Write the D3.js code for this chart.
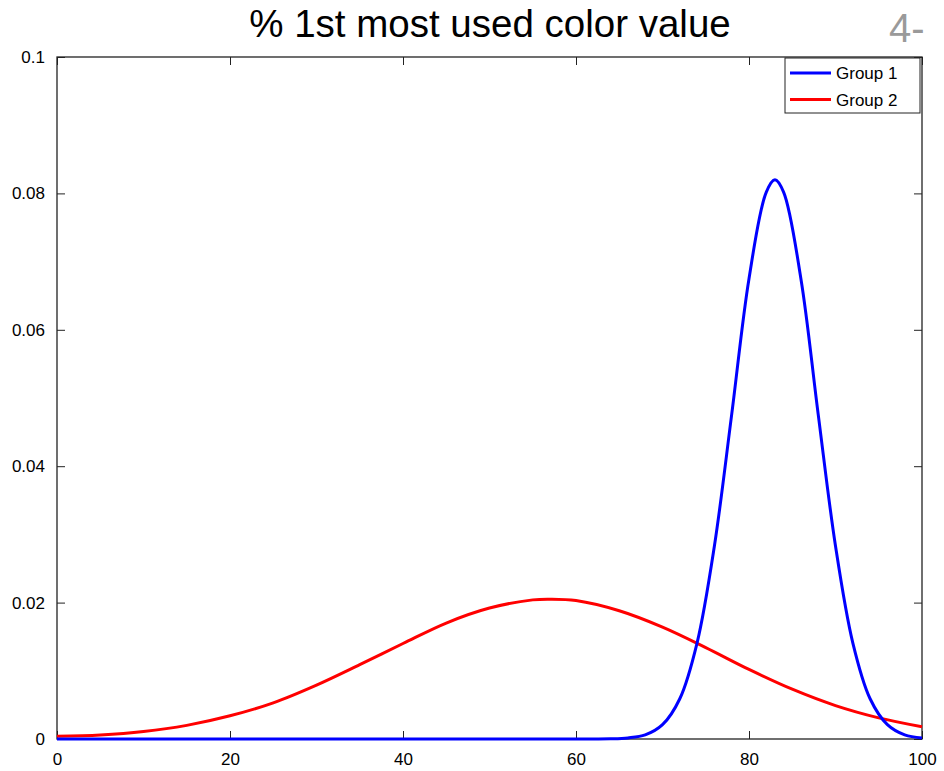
<!DOCTYPE html>
<html>
<head>
<meta charset="utf-8">
<script src="https://cdn.jsdelivr.net/npm/d3@7"></script>
<style>
  body { margin: 0; background: #fff; }
  text { font-family: "Liberation Sans", Arial, Helvetica, sans-serif; }
</style>
</head>
<body>
<div id="chart"></div>
<script>
// values
var xTicks = [0, 20, 40, 60, 80, 100];
var yTicks = [0, 0.02, 0.04, 0.06, 0.08, 0.1];
var yTickLabels = ["0", "0.02", "0.04", "0.06", "0.08", "0.1"];
var seriesNames = ["Group 1", "Group 2"];
var seriesColors = ["#0000ff", "#ff0000"];

var group1X = [0, 20, 40, 60, 62, 64, 66, 68, 70, 72, 74, 76, 78, 80, 82, 83, 84, 86, 88, 90, 92, 94, 96, 98, 100];
var group1Y = [0, 0, 0, 0, 0.00001, 0.00003, 0.00016, 0.0006, 0.0021, 0.0059, 0.0141, 0.0283, 0.0476, 0.0675, 0.0802, 0.082, 0.0802, 0.0675, 0.0476, 0.0283, 0.0141, 0.0059, 0.0021, 0.0006, 0.00016];

var group2X = [0, 5, 10, 15, 20, 25, 30, 35, 40, 45, 50, 55, 57, 60, 65, 70, 75, 80, 85, 90, 95, 100];
var group2Y = [0.0004, 0.0006, 0.0011, 0.002, 0.0034, 0.0053, 0.0079, 0.0109, 0.014, 0.017, 0.0192, 0.0204, 0.0205, 0.0203, 0.0188, 0.0164, 0.0134, 0.0102, 0.0073, 0.0049, 0.0031, 0.0018];

var W = 944, H = 771;
var margin = {top: 57, right: 22, bottom: 32, left: 57},
    width = W - margin.left - margin.right,
    height = H - margin.top - margin.bottom;

var svg = d3.select("#chart")
  .append("svg")
    .attr("width", W)
    .attr("height", H);

// slide title and page number in the corner
svg.append("text")
  .attr("x", 490)
  .attr("y", 37)
  .attr("text-anchor", "middle")
  .style("font-size", "38.5px")
  .text("% 1st most used color value");

svg.append("text")
  .attr("x", 889)
  .attr("y", 42)
  .style("font-size", "40px")
  .style("fill", "#9a9a9a")
  .text("4-");

var g = svg.append("g")
  .attr("transform", "translate(" + margin.left + "," + margin.top + ")");

var x = d3.scaleLinear().domain([0, 100]).range([0, width]);
var y = d3.scaleLinear().domain([0, 0.1]).range([height, 0]);

// axes with inward ticks, mirrored on top and right
var tickLen = 8;
g.append("g")
  .attr("class", "axis")
  .attr("transform", "translate(0," + height + ")")
  .call(d3.axisBottom(x).tickValues(xTicks).tickSize(-tickLen).tickPadding(tickLen + 6).tickSizeOuter(0));
g.append("g")
  .attr("class", "axis")
  .call(d3.axisTop(x).tickValues(xTicks).tickSize(-tickLen).tickFormat("").tickSizeOuter(0));
g.append("g")
  .attr("class", "axis")
  .call(d3.axisLeft(y).tickValues(yTicks).tickSize(-tickLen).tickPadding(tickLen + 4).tickSizeOuter(0)
    .tickFormat(function(d, i) { return yTickLabels[i]; }));
g.append("g")
  .attr("class", "axis")
  .attr("transform", "translate(" + width + ",0)")
  .call(d3.axisRight(y).tickValues(yTicks).tickSize(-tickLen).tickFormat("").tickSizeOuter(0));

g.selectAll(".axis .domain").remove();
g.selectAll(".axis line").attr("stroke", "#222");
g.selectAll(".axis text")
  .style("font-size", "17px")
  .style("font-family", "'Liberation Sans', Arial, sans-serif")
  .attr("fill", "#000");

g.append("rect")
  .attr("width", width)
  .attr("height", height)
  .attr("fill", "none")
  .attr("stroke", "#222")
  .attr("stroke-width", 1.3);

var line = d3.line()
  .x(function(d) { return x(d[0]); })
  .y(function(d) { return y(d[1]); })
  .curve(d3.curveCatmullRom.alpha(0.5));

var series = [
  d3.zip(group1X, group1Y),
  d3.zip(group2X, group2Y)
];

// red drawn first, blue on top
[1, 0].forEach(function(i) {
  g.append("path")
    .datum(series[i])
    .attr("d", line)
    .attr("fill", "none")
    .attr("stroke", seriesColors[i])
    .attr("stroke-width", 3);
});

// legend
var legend = g.append("g")
  .attr("transform", "translate(" + (width - 137) + ",1)");
legend.append("rect")
  .attr("width", 135)
  .attr("height", 55)
  .attr("fill", "#fff")
  .attr("stroke", "#222")
  .attr("stroke-width", 1);
seriesNames.forEach(function(name, i) {
  var ly = 15 + i * 26.5;
  legend.append("line")
    .attr("x1", 5).attr("x2", 46)
    .attr("y1", ly).attr("y2", ly)
    .attr("stroke", seriesColors[i])
    .attr("stroke-width", 3);
  legend.append("text")
    .attr("x", 51)
    .attr("y", ly + 6)
    .style("font-size", "17px")
    .text(name);
});
</script>
</body>
</html>
